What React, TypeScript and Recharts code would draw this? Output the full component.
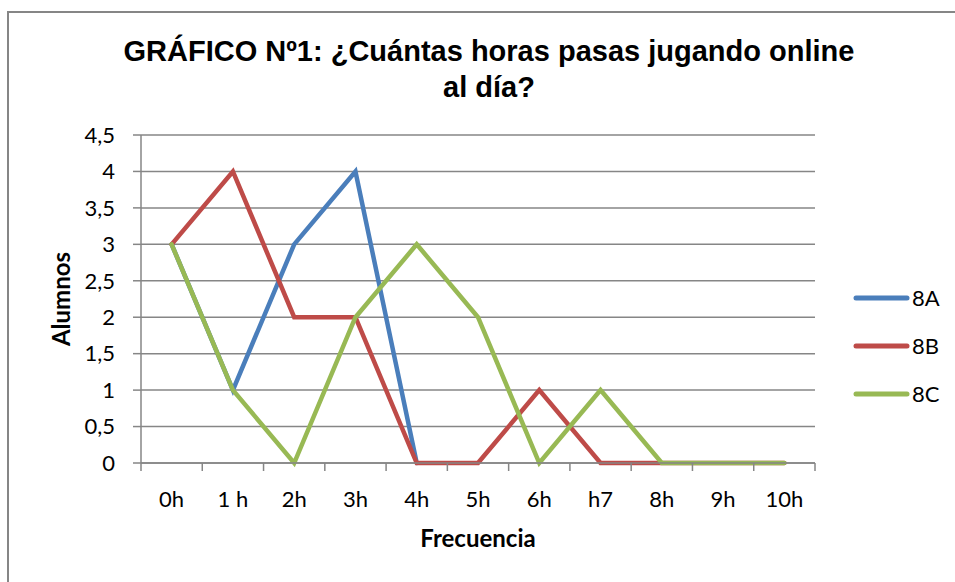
import { LineChart, Line, XAxis, YAxis, CartesianGrid, Legend } from 'recharts';

const categories = ['0h', '1 h', '2h', '3h', '4h', '5h', '6h', 'h7', '8h', '9h', '10h'];
const serie8A = [3, 1, 3, 4, 0, null, null, null, null, null, null];
const serie8B = [3, 4, 2, 2, 0, 0, 1, 0, 0, 0, 0];
const serie8C = [3, 1, 0, 2, 3, 2, 0, 1, 0, 0, 0];
const yTicks = [0, 0.5, 1, 1.5, 2, 2.5, 3, 3.5, 4, 4.5];

const seriesInfo = [
  { key: 'a', name: '8A', color: '#4a7ebb' },
  { key: 'b', name: '8B', color: '#be4b48' },
  { key: 'c', name: '8C', color: '#98b954' },
];

const data = categories.map((cat, i) => ({
  cat,
  a: serie8A[i],
  b: serie8B[i],
  c: serie8C[i],
}));

const W = 955;
const H = 582;
const PLOT_LEFT = 141;
const PLOT_RIGHT = 815;
const PLOT_TOP = 135;
const PLOT_BOTTOM = 463;
const BAND = (PLOT_RIGHT - PLOT_LEFT) / categories.length;
const AXIS = '#868686';
const FONT = 'Lato, "Open Sans", sans-serif';

function XTick(props: any) {
  const { x, y, payload, index } = props;
  const half = BAND / 2;
  return (
    <g>
      <line x1={x - half} y1={y} x2={x - half} y2={y + 8} stroke={AXIS} strokeWidth={1.5} />
      {index === categories.length - 1 && (
        <line x1={x + half} y1={y} x2={x + half} y2={y + 8} stroke={AXIS} strokeWidth={1.5} />
      )}
      <text x={x} y={y + 44} textAnchor="middle" fontSize={22} fill="#000" fontFamily={FONT}>
        {payload.value}
      </text>
    </g>
  );
}

function renderLegend(props: any) {
  const items = props.payload || [];
  return (
    <div style={{ margin: 0, padding: 0 }}>
      {items.map((it: any) => (
        <div key={it.value} style={{ display: 'flex', alignItems: 'center', height: 48 }}>
          <svg width={57} height={8} style={{ display: 'block' }}>
            <line x1={3} y1={4} x2={54} y2={4} stroke={it.color} strokeWidth={5} strokeLinecap="round" />
          </svg>
          <span style={{ fontFamily: FONT, fontSize: 22, color: '#000', marginLeft: 2, lineHeight: '22px' }}>
            {it.value}
          </span>
        </div>
      ))}
    </div>
  );
}

export default function App() {
  return (
    <div style={{ position: 'fixed', left: 0, top: 0, width: W, height: H, overflow: 'hidden', background: '#fff' }}>
      <div
        style={{
          position: 'absolute',
          left: 7,
          top: 11,
          width: 1100,
          height: 800,
          border: `2px solid ${AXIS}`,
          boxSizing: 'border-box',
        }}
      />
      <div
        style={{
          position: 'absolute',
          left: 0,
          top: 33,
          width: 978,
          textAlign: 'center',
          fontFamily: '"Liberation Sans", Arial, sans-serif',
          fontWeight: 'bold',
          fontSize: 29,
          lineHeight: '36px',
          color: '#000',
        }}
      >
        GRÁFICO Nº1: ¿Cuántas horas pasas jugando online
        <br />
        al día?
      </div>
      <div style={{ position: 'absolute', left: 0, top: 0 }}>
        <LineChart
          width={W}
          height={H}
          data={data}
          margin={{ top: PLOT_TOP, right: W - PLOT_RIGHT, left: PLOT_LEFT - 60, bottom: H - PLOT_BOTTOM - 40 }}
        >
          <CartesianGrid vertical={false} stroke={AXIS} strokeWidth={1.5} />
          <XAxis
            dataKey="cat"
            interval={0}
            height={40}
            padding={{ left: BAND / 2, right: BAND / 2 }}
            axisLine={{ stroke: AXIS, strokeWidth: 1.5 }}
            tickLine={false}
            tickSize={0}
            tickMargin={0}
            tick={<XTick />}
            label={(p: any) => (
              <text
                x={(PLOT_LEFT + PLOT_RIGHT) / 2}
                y={547}
                textAnchor="middle"
                fontFamily={FONT}
                fontWeight="bold"
                fontSize={24}
                fill="#000"
              >
                Frecuencia
              </text>
            )}
          />
          <YAxis
            width={60}
            domain={[0, 4.5]}
            ticks={yTicks}
            interval={0}
            tickFormatter={(v: number) => String(v).replace('.', ',')}
            axisLine={{ stroke: AXIS, strokeWidth: 1.5 }}
            tickLine={{ stroke: AXIS, strokeWidth: 1.5 }}
            tickSize={8}
            tickMargin={18}
            tick={{ fontSize: 22, fill: '#000', fontFamily: FONT }}
            label={(p: any) => (
              <text
                x={70}
                y={(PLOT_TOP + PLOT_BOTTOM) / 2}
                transform={`rotate(-90 70 ${(PLOT_TOP + PLOT_BOTTOM) / 2})`}
                textAnchor="middle"
                fontFamily={FONT}
                fontWeight="bold"
                fontSize={24}
                fill="#000"
              >
                Alumnos
              </text>
            )}
          />
          <Legend
            layout="vertical"
            align="center"
            verticalAlign="middle"
            wrapperStyle={{ left: 853, top: 274, width: 100 }}
            content={renderLegend}
          />
          {seriesInfo.map((s) => (
            <Line
              key={s.key}
              type="linear"
              dataKey={s.key}
              name={s.name}
              stroke={s.color}
              strokeWidth={4.5}
              strokeLinecap="round"
              dot={false}
              activeDot={false}
              isAnimationActive={false}
            />
          ))}
        </LineChart>
      </div>
    </div>
  );
}
